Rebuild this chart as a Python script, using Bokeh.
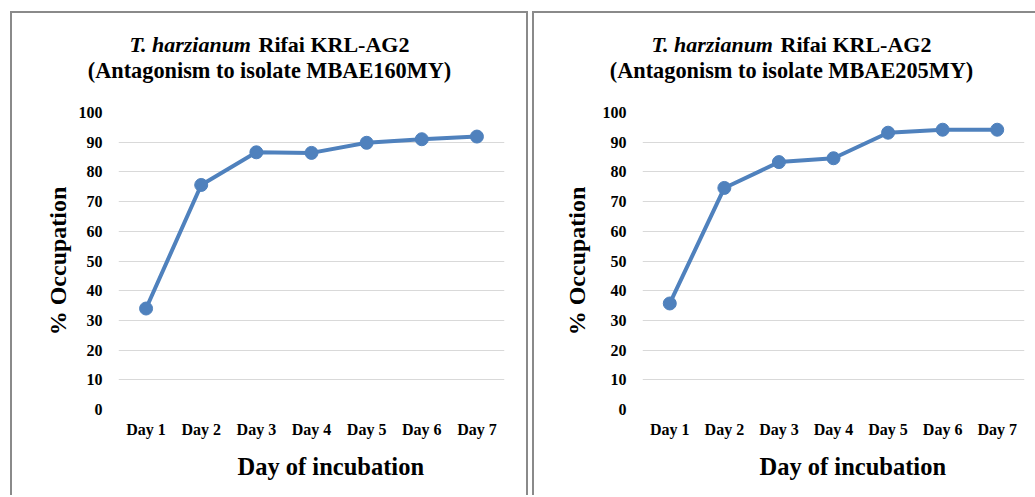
from bokeh.plotting import figure
from bokeh.models import FactorRange, Range1d, Label, FixedTicker, Title
from bokeh.layouts import row
from bokeh.embed import file_html
from bokeh.resources import INLINE

# ---- data ----
days = ["Day 1", "Day 2", "Day 3", "Day 4", "Day 5", "Day 6", "Day 7"]
occupation_160 = [34.0, 75.6, 86.6, 86.4, 89.8, 91.0, 91.9]
occupation_205 = [35.7, 74.6, 83.3, 84.6, 93.2, 94.2, 94.2]
y_ticks = [0, 10, 20, 30, 40, 50, 60, 70, 80, 90, 100]
species = "T. harzianum"
strain = "Rifai KRL-AG2"
isolates = ["MBAE160MY", "MBAE205MY"]
x_title = "Day of incubation"
y_title = "% Occupation"

FONT = "Liberation Serif"
BLUE = "#4F81BD"
BORDER = "2px solid #8a8a8a"


def text_label(text, x, y, style, size, align):
    return Label(x=x, y=y, x_units="screen", y_units="screen", text=text,
                 text_font=FONT, text_font_style=style, text_font_size=size,
                 text_align=align, text_baseline="middle", text_color="black")


def make_panel(values, isolate, width, b_left, b_right, ylab_standoff, styles):
    p = figure(x_range=FactorRange(factors=days, range_padding=0),
               y_range=Range1d(0, 100),
               width=width, height=484,
               min_border_left=b_left, min_border_right=b_right,
               min_border_top=99, min_border_bottom=88,
               output_backend="svg", toolbar_location=None,
               styles=styles)
    p.outline_line_color = None
    p.background_fill_color = "white"
    p.border_fill_color = "white"
    p.xgrid.grid_line_color = None
    p.ygrid.grid_line_color = "#D9D9D9"
    p.ygrid.grid_line_width = 1.2
    p.yaxis.ticker = FixedTicker(ticks=y_ticks)
    for ax in (p.xaxis, p.yaxis):
        ax.axis_line_color = None
        ax.major_tick_line_color = None
        ax.minor_tick_line_color = None
        ax.major_label_text_font = FONT
        ax.major_label_text_font_style = "bold"
        ax.major_label_text_font_size = "16px"
        ax.major_label_text_color = "black"
    p.yaxis.major_label_standoff = 10
    p.xaxis.major_label_standoff = 5
    p.yaxis.axis_label = y_title
    p.yaxis.axis_label_text_font = FONT
    p.yaxis.axis_label_text_font_style = "bold"
    p.yaxis.axis_label_text_font_size = "24px"
    p.yaxis.axis_label_text_color = "black"
    p.yaxis.axis_label_standoff = ylab_standoff

    p.line(days, values, line_color=BLUE, line_width=4)
    p.scatter(days, values, size=13, fill_color=BLUE, line_color=BLUE)

    fl = b_left
    # x-axis title below the tick labels
    p.add_layout(Title(text=x_title, text_font=FONT, text_font_style="bold",
                       text_font_size="24.5px", text_color="black", align="left",
                       offset=318 - 93 - fl, vertical_align="middle", standoff=22), "below")
    # chart title: stacked side-panel labels (nearest the frame first)
    start = 117
    p.add_layout(text_label("(Antagonism to isolate " + isolate + ")", 257 - fl, 42,
                            "bold", "22.3px", "center"), "above")
    p.add_layout(text_label(species, start - fl, 43, "bold italic", "22px", "left"), "above")
    p.add_layout(text_label(strain, start + 129 - fl, 18, "bold", "22px", "left"), "above")
    return p


p1 = make_panel(occupation_160, isolates[0], 518, 106, 26, 5,
                {"margin-left": "10px", "margin-top": "11px", "border-left": BORDER,
                 "border-top": BORDER, "border-right": BORDER})
p2 = make_panel(occupation_205, isolates[1], 503, 108, 13, 10,
                {"margin-left": "4px", "margin-top": "11px", "border-left": BORDER,
                 "border-top": BORDER})

layout = row(p1, p2)
open("out.html", "w").write(file_html(layout, INLINE))
